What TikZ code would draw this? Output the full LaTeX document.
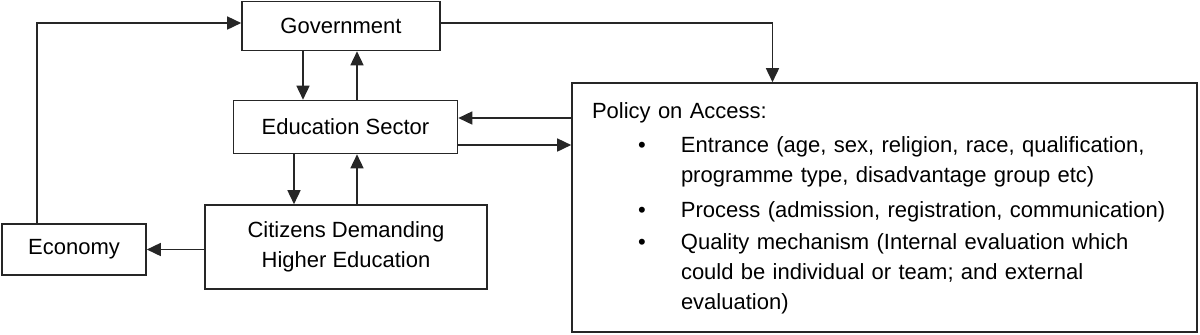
\documentclass[tikz,border=0pt]{standalone}
\usepackage{fontspec}
\setmainfont{Liberation Sans}
\usetikzlibrary{arrows.meta}
\definecolor{cLine}{HTML}{262626}

\begin{document}
\begin{tikzpicture}[x=0.5pt, y=-0.5pt,
      bx/.style = {draw=cLine, line width=0.8pt, inner sep=0pt, align=center, font=\fontsize{11}{15}\selectfont},
      ar/.style = {-{Triangle[length=7pt, width=6.5pt]}, draw=cLine, line width=0.8pt} ]
    \useasboundingbox (0,0) rectangle (1200,334);
    \node[bx, minimum width=99pt,  minimum height=24.5pt] (gov) at (341,26)    {Government};
    \node[bx, minimum width=112pt, minimum height=26.5pt] (edu) at (345.5,127) {Education Sector};
    \node[bx, minimum width=141pt, minimum height=42pt]   (cit) at (346,247)   {Citizens Demanding\\Higher Education};
    \node[bx, minimum width=72pt,  minimum height=25.5pt] (eco) at (74,249.5)  {Economy};
    \node[bx, align=left, inner xsep=10pt, text width=292.5pt, minimum height=124.5pt] (policy) at (884.5,207.5) {%
      \begin{tabular}{@{\hspace{23pt}}p{21.5pt}@{}l@{}}
        \multicolumn{2}{@{}l@{}}{Policy on Access:}\\[2pt]
        \textbullet & Entrance (age, sex, religion, race, qualification,\\
                    & programme type, disadvantage group etc)\\[2.5pt]
        \textbullet & Process (admission, registration, communication)\\[1pt]
        \textbullet & Quality mechanism (Internal evaluation which\\
                    & could be individual or team; and external\\
                    & evaluation)
      \end{tabular}};
    % connector ends
    \coordinate (g1) at ([xshift=-19pt]gov.south);
    \coordinate (g2) at ([xshift=5.75pt]edu.north);
    \coordinate (d1) at ([xshift=-25.75pt]edu.south);
    \coordinate (c1) at ([xshift=5.5pt]cit.north);
    \coordinate (e1) at ([yshift=4.5pt]edu.east);
    \coordinate (e2) at ([yshift=-9pt]edu.east);
    \draw[ar] ([xshift=-18.5pt]eco.north) |- ([yshift=1.5pt]gov.west);
    \draw[ar] ([yshift=1.5pt]gov.east) -| ([xshift=-56pt]policy.north);
    \draw[ar] (g1) -- (g1 |- edu.north);
    \draw[ar] (g2) -- (g2 |- gov.south);
    \draw[ar] (d1) -- (d1 |- cit.north);
    \draw[ar] (c1) -- (c1 |- edu.south);
    \draw[ar] (cit.west |- eco.east) -- (eco.east);
    \draw[ar] (policy.west |- e1) -- (e1);
    \draw[ar] (e2) -- (e2 -| policy.west);
  \end{tikzpicture}
\end{document}
